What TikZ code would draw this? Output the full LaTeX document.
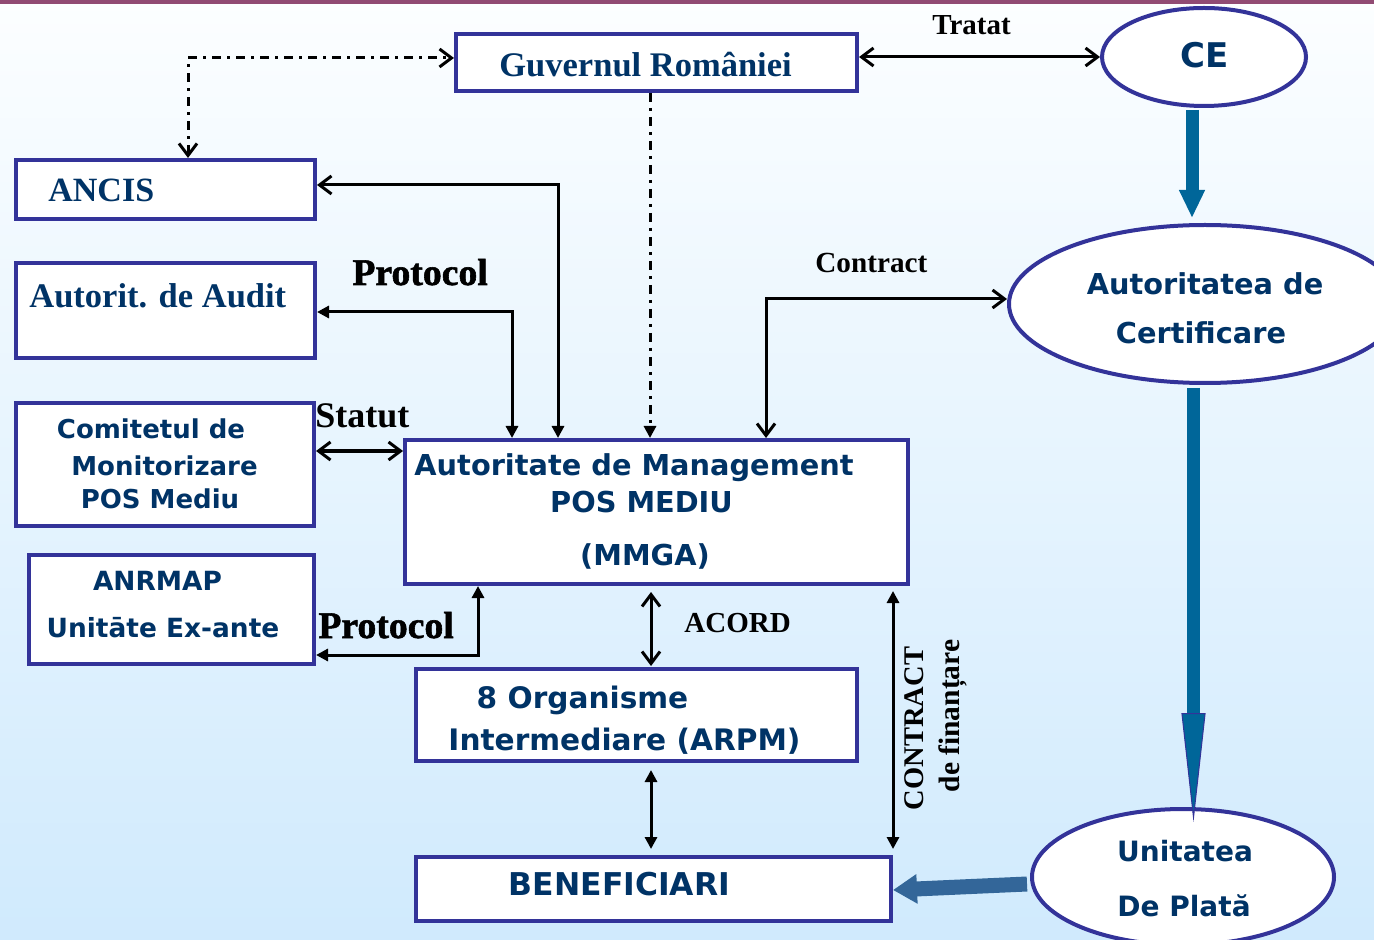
\documentclass[tikz,border=0pt]{standalone}
\usepackage{fontspec}
\setmainfont{Liberation Serif}
\newfontfamily\sansb{DejaVu Sans}
\newfontfamily\heavy{Liberation Serif}[BoldFeatures={FakeBold=1.5}]
\usetikzlibrary{arrows.meta,shapes.geometric,calc}
\definecolor{bord}{RGB}{51,51,153}
\definecolor{txt}{RGB}{0,51,102}
\definecolor{fat}{RGB}{0,102,153}
\definecolor{fatb}{RGB}{51,102,153}
\definecolor{bgtop}{RGB}{252,254,255}
\definecolor{bgbot}{RGB}{208,234,253}
\definecolor{topbar}{RGB}{145,75,115}
\tikzset{
  Bb/.tip={Straight Barb[length=6pt,width=9pt,line width=1.5pt]},
  Tf/.tip={Triangle[length=6pt,width=6pt]},
  box/.style={rectangle,draw=bord,line width=2pt,fill=white,inner sep=0pt},
  ell/.style={ellipse,draw=bord,line width=2pt,fill=white,inner sep=0pt},
  st/.style={text=txt,inner sep=0pt,font=\fontsize{#1pt}{#1pt}\selectfont\bfseries},
  ss/.style={text=txt,inner sep=0pt,font=\sansb\fontsize{#1pt}{#1pt}\selectfont\bfseries},
  lb/.style={text=black,inner sep=0pt,font=\fontsize{#1pt}{#1pt}\selectfont\bfseries},
  lbh/.style={text=black,inner sep=0pt,font=\heavy\fontsize{#1pt}{#1pt}\selectfont\bfseries},
  conn/.style={line width=1.5pt,black},
  dd/.style={conn,dash pattern=on 4.5pt off 3pt on 1.5pt off 3pt},
  fatarrow/.style={line width=6.5pt,draw=fat},
}
\begin{document}
\begin{tikzpicture}[x=0.5pt,y=-0.5pt]
\useasboundingbox (0,0) rectangle (1374,940);
\shade[top color=bgtop,bottom color=bgbot] (0,0) rectangle (1374,940);
\fill[topbar] (0,0) rectangle (1374,4);

% boxes
\node[box,minimum width=200.5pt,minimum height=28.5pt] (gov) at (656.5,62.5) {};
\node[box,minimum width=149.5pt,minimum height=29.5pt] (ancis) at (165.5,189.5) {};
\node[box,minimum width=149.5pt,minimum height=47.5pt] (audit) at (165.5,310.5) {};
\node[box,minimum width=149pt,minimum height=61.5pt] (comit) at (165,464.5) {};
\node[box,minimum width=142.5pt,minimum height=54.5pt] (anrmap) at (171.5,609.5) {};
\node[box,minimum width=251.5pt,minimum height=72pt] (am) at (656.5,512) {};
\node[box,minimum width=220.5pt,minimum height=46pt] (oi) at (636.5,715) {};
\node[box,minimum width=237.5pt,minimum height=32pt] (ben) at (653.5,889) {};
% ellipses
\node[ell,minimum width=102pt,minimum height=49pt] (ce) at (1204,57) {};
\node[ell,minimum width=196pt,minimum height=79pt] (ac) at (1205,304) {};
\node[ell,minimum width=151pt,minimum height=68pt] (up) at (1183,877) {};

% texts
\node[st=17.25,anchor=base west] (govt) at (499,77) {Guvernul României};
\node[st=17,anchor=base west] (ancist) at (48,202) {ANCIS};
\node[st=17.25,anchor=base west] (auditt) at (29,308) {Autorit. de Audit};
\node[ss=13,anchor=base] (comt1) at (151,438) {Comitetul de};
\node[ss=13,anchor=base] (comt2) at (164.5,475) {Monitorizare};
\node[ss=13,anchor=base] (comt3) at (160,508) {POS Mediu};
\node[ss=13.2,anchor=base] (anrt1) at (157.5,590) {ANRMAP};
\node[ss=13.2,anchor=base] (anrt2) at (163,637) {Unitāte Ex-ante};
\node[ss=14.4,anchor=base] (amt1) at (634,475) {Autoritate de Management};
\node[ss=14.4,anchor=base] (amt2) at (641.5,512) {POS MEDIU};
\node[ss=14.4,anchor=base] (amt3) at (645,565) {(MMGA)};
\node[ss=14.8,anchor=base] (oit1) at (582.5,708) {8 Organisme};
\node[ss=14.8,anchor=base] (oit2) at (624.5,750) {Intermediare (ARPM)};
\node[ss=15.7,anchor=base] (bent) at (619.5,895) {BENEFICIARI};
\node[ss=17,anchor=base] (cet) at (1204.5,68) {CE};
\node[ss=14.4,anchor=base] (act1) at (1205,295) {Autoritatea de};
\node[ss=14.4,anchor=base] (act2) at (1201,344) {Certificare};
\node[ss=14,anchor=base] (upt1) at (1185,861) {Unitatea};
\node[ss=14,anchor=base] (upt2) at (1184,916) {De Plată};

% labels
\node[lb=14.5,anchor=base west] (tratat) at (932,35) {Tratat};
\node[lbh=18.85,anchor=base west] (prot1) at (352,285) {Protocol};
\node[lbh=18.85,anchor=base west] (prot2) at (318,638) {Protocol};
\node[lb=18,anchor=base west] (statut) at (315,428) {Statut};
\node[lb=14.6,anchor=base west] (contr) at (815,273) {Contract};
\node[lb=14.5,anchor=base west] (acord) at (684,632) {ACORD};
\node[lb=14.25,rotate=90] (ctrv) at (914.5,728.5) {CONTRACT};
\node[lb=14.75,rotate=90] (finv) at (953,716) {de finanțare};

% connectors
\draw[dd,Bb-Bb] ([xshift=11.25pt]ancis.north) |- ([yshift=2.25pt]gov.west);
\draw[dd,-Tf] ([xshift=-3.25pt]gov.south) -- ([xshift=-3.25pt]am.north);
\draw[conn,Tf-Bb] ([xshift=-49.25pt]am.north) |- ([yshift=2.25pt]ancis.east);
\draw[conn,Tf-Tf] ([xshift=-72.25pt]am.north) |- ([yshift=-0.75pt]audit.east);
\draw[conn,Bb-Bb] ([yshift=6.75pt]comit.east) -- ([yshift=6.75pt]comit.east -| am.west);
\draw[conn,Tf-Tf] ([xshift=-89.25pt]am.south) |- ([yshift=-22.75pt]anrmap.east);
\draw[conn,Bb-Bb,shorten <=3pt,shorten >=0.5pt] ([xshift=-2.75pt]am.south) -- ([xshift=-2.75pt]am.south |- oi.north);
\draw[conn,Tf-Tf,shorten <=3.5pt,shorten >=3pt] ([xshift=7.25pt]oi.south) -- ([xshift=7.25pt]oi.south |- ben.north);
\draw[conn,Tf-Tf,shorten <=2.5pt,shorten >=3pt] ([xshift=118.25pt]am.south) -- (ben.north east);
\draw[conn,Bb-Bb] ([xshift=54.75pt]am.north) |- ([yshift=2.5pt]ac.west);
\draw[conn,Bb-Bb] (gov.east |- ce.west) -- (ce.west);

% fat arrows
\draw[fatarrow,-{Triangle[length=14pt,width=12pt]}] ([xshift=-6pt,yshift=-1pt]ce.south) -- ([xshift=-6.5pt,yshift=2.5pt]ac.north);
\draw[fatarrow,-{Triangle[length=54.5pt,width=12pt,line width=0.5pt,color=bord,fill=fat]}] ([xshift=-5.75pt,yshift=-1.5pt]ac.south) -- ([xshift=5.25pt,yshift=-7.5pt]up.north);
\draw[line width=7.5pt,draw=fatb,-{Triangle[length=12pt,width=14pt]}] ([xshift=-1.5pt,yshift=-3.5pt]up.west) -- ([yshift=-0.5pt]ben.east);
\end{tikzpicture}
\end{document}
